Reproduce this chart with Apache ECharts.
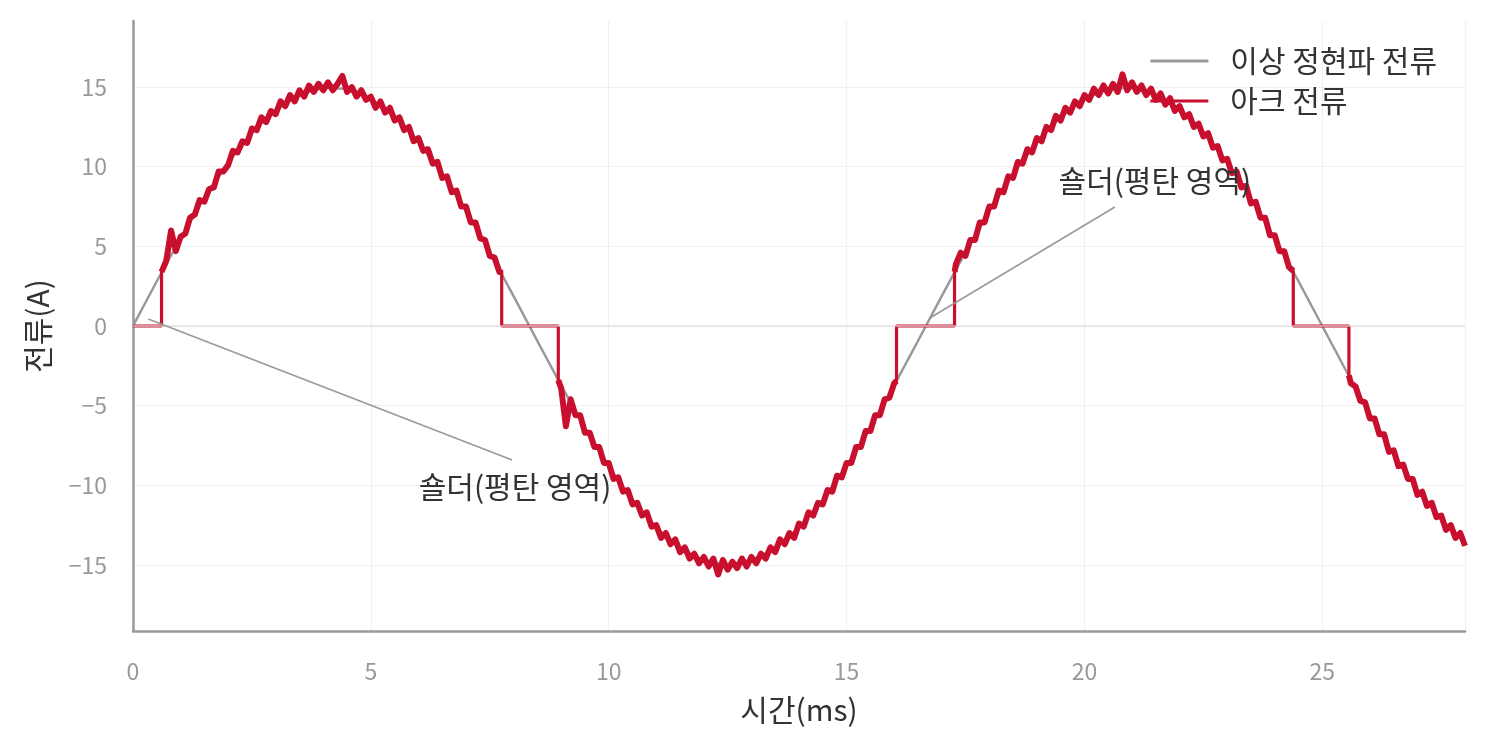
<!DOCTYPE html>
<html>
<head>
<meta charset="utf-8">
<script src="https://cdn.jsdelivr.net/npm/echarts@6.0.0/dist/echarts.min.js"></script>
<style>
    body { margin: 0; background: #fff; }
    #main { width: 1486px; height: 752px; }
</style>
</head>
<body>
<div id="main"></div>
<script>
//데이터
const xTicks = [0, 5, 10, 15, 20, 25];
const yTicks = [-15, -10, -5, 0, 5, 10, 15];

//이상 정현파 (0.5ms 간격)
const idealTime = [0, 0.5, 1, 1.5, 2, 2.5, 3, 3.5, 4, 4.5, 5, 5.5, 6, 6.5, 7, 7.5, 8, 8.5, 9, 9.5,
    10, 10.5, 11, 11.5, 12, 12.5, 13, 13.5, 14, 14.5, 15, 15.5, 16, 16.5, 17, 17.5, 18, 18.5, 19, 19.5,
    20, 20.5, 21, 21.5, 22, 22.5, 23, 23.5, 24, 24.5, 25, 25.5, 26, 26.5, 27, 27.5, 28];
const idealCurrent = [0, 2.81, 5.52, 8.04, 10.27, 12.14, 13.57, 14.53, 14.97, 14.88, 14.26, 13.14, 11.56, 9.56, 7.23, 4.64, 1.88, -0.94, -3.73, -6.39,
    -8.82, -10.93, -12.66, -13.95, -14.73, -15.0, -14.73, -13.95, -12.66, -10.93, -8.82, -6.39, -3.73, -0.94, 1.88, 4.64, 7.23, 9.56, 11.56, 13.14,
    14.26, 14.88, 14.97, 14.53, 13.57, 12.14, 10.27, 8.04, 5.52, 2.81, 0, -2.81, -5.52, -8.04, -10.27, -12.14, -13.57];

//아크 전류 [시간(ms), 전류(A)]
const arcCurrent = [
    [0, 0], [0.6, 0], [0.6, 3.4], [0.7, 4.1], [0.8, 6.0], [0.9, 4.7], [1.0, 5.6], [1.1, 5.8], [1.2, 6.8], [1.3, 7.0], [1.4, 7.9], [1.5, 7.8],
    [1.6, 8.6], [1.7, 8.7], [1.8, 9.7], [1.9, 9.7], [2.0, 10.1], [2.1, 11.0], [2.2, 10.9], [2.3, 11.6], [2.4, 11.5], [2.5, 12.4], [2.6, 12.3],
    [2.7, 13.1], [2.8, 12.8], [2.9, 13.5], [3.0, 13.3], [3.1, 14.1], [3.2, 13.8], [3.3, 14.5], [3.4, 14.1], [3.5, 14.8], [3.6, 14.4], [3.7, 15.1],
    [3.8, 14.7], [3.9, 15.2], [4.0, 14.8], [4.1, 15.3], [4.2, 14.8], [4.3, 15.2], [4.4, 15.7], [4.5, 14.7], [4.6, 15.0], [4.7, 14.4], [4.8, 14.8],
    [4.9, 14.2], [5.0, 14.4], [5.1, 13.7], [5.2, 14.1], [5.3, 13.4], [5.4, 13.7], [5.5, 12.9], [5.6, 13.1], [5.7, 12.3], [5.8, 12.5], [5.9, 11.6],
    [6.0, 11.8], [6.1, 11.0], [6.2, 11.1], [6.3, 10.2], [6.4, 10.3], [6.5, 9.3], [6.6, 9.4], [6.7, 8.4], [6.8, 8.5], [6.9, 7.5], [7.0, 7.5],
    [7.1, 6.5], [7.2, 6.5], [7.3, 5.5], [7.4, 5.4], [7.5, 4.4], [7.6, 4.3], [7.7, 3.4], [7.75, 3.5], [7.75, 0], [8.94, 0], [8.94, -3.4],
    [9.0, -3.9], [9.1, -6.3], [9.2, -4.6], [9.3, -5.6], [9.4, -5.6], [9.5, -6.7], [9.6, -6.7], [9.7, -7.6], [9.8, -7.6], [9.9, -8.6], [10.0, -8.6],
    [10.1, -9.6], [10.2, -9.5], [10.3, -10.4], [10.4, -10.3], [10.5, -11.2], [10.6, -11.1], [10.7, -11.9], [10.8, -11.7], [10.9, -12.6], [11.0, -12.5],
    [11.1, -13.3], [11.2, -13.0], [11.3, -13.7], [11.4, -13.4], [11.5, -14.2], [11.6, -13.9], [11.7, -14.6], [11.8, -14.3], [11.9, -14.9], [12.0, -14.5],
    [12.1, -15.1], [12.2, -14.6], [12.3, -15.6], [12.4, -14.7], [12.5, -15.3], [12.6, -14.8], [12.7, -15.2], [12.8, -14.6], [12.9, -15.1], [13.0, -14.5],
    [13.1, -14.9], [13.2, -14.3], [13.3, -14.6], [13.4, -13.9], [13.5, -14.2], [13.6, -13.4], [13.7, -13.7], [13.8, -13.0], [13.9, -13.3], [14.0, -12.4],
    [14.1, -12.6], [14.2, -11.7], [14.3, -11.9], [14.4, -11.1], [14.5, -11.2], [14.6, -10.3], [14.7, -10.4], [14.8, -9.4], [14.9, -9.5], [15.0, -8.6],
    [15.1, -8.6], [15.2, -7.6], [15.3, -7.6], [15.4, -6.6], [15.5, -6.6], [15.6, -5.6], [15.7, -5.6], [15.8, -4.6], [15.9, -4.5], [16.0, -3.6],
    [16.05, -3.45], [16.05, 0], [17.27, 0], [17.27, 3.4],
    [17.3, 3.9], [17.4, 4.6], [17.5, 4.4], [17.6, 5.4], [17.7, 5.4], [17.8, 6.5], [17.9, 6.5], [18.0, 7.5], [18.1, 7.5], [18.2, 8.5], [18.3, 8.4],
    [18.4, 9.4], [18.5, 9.3], [18.6, 10.3], [18.7, 10.2], [18.8, 11.1], [18.9, 10.9], [19.0, 11.8], [19.1, 11.6], [19.2, 12.5], [19.3, 12.3],
    [19.4, 13.2], [19.5, 12.9], [19.6, 13.7], [19.7, 13.4], [19.8, 14.1], [19.9, 13.8], [20.0, 14.5], [20.1, 14.2], [20.2, 14.9], [20.3, 14.5],
    [20.4, 15.1], [20.5, 14.6], [20.6, 15.2], [20.7, 14.7], [20.8, 15.8], [20.9, 14.8], [21.0, 15.3], [21.1, 14.7], [21.2, 15.1], [21.3, 14.5],
    [21.4, 14.9], [21.5, 14.2], [21.6, 14.6], [21.7, 13.9], [21.8, 14.3], [21.9, 13.5], [22.0, 13.8], [22.1, 13.1], [22.2, 13.3], [22.3, 12.5],
    [22.4, 12.7], [22.5, 11.9], [22.6, 12.1], [22.7, 11.2], [22.8, 11.3], [22.9, 10.4], [23.0, 10.5], [23.1, 9.6], [23.2, 9.7], [23.3, 8.7],
    [23.4, 8.8], [23.5, 7.7], [23.6, 7.8], [23.7, 6.8], [23.8, 6.8], [23.9, 5.7], [24.0, 5.7], [24.1, 4.7], [24.2, 4.7], [24.3, 3.7],
    [24.39, 3.45], [24.39, 0], [25.56, 0], [25.56, -3.1],
    [25.6, -3.6], [25.7, -3.8], [25.8, -4.7], [25.9, -4.8], [26.0, -5.8], [26.1, -5.8], [26.2, -6.8], [26.3, -6.8], [26.4, -7.9], [26.5, -7.8],
    [26.6, -8.8], [26.7, -8.7], [26.8, -9.6], [26.9, -9.6], [27.0, -10.6], [27.1, -10.4], [27.2, -11.3], [27.3, -11.1], [27.4, -12.0], [27.5, -11.9],
    [27.6, -12.8], [27.7, -12.5], [27.8, -13.3], [27.9, -13.0], [28.0, -13.8]
];

//주석 (숄더)
const annotText = '숄더(평탄 영역)';
const arrowFrom = [[0.32, 0.44], [16.75, 0.5]];
const arrowTo = [[7.97, -8.41], [20.64, 7.47]];
const labelPos = [[8.03, -10.1], [21.48, 9.1]];

const FONT = '"Noto Sans CJK KR", "Noto Sans", sans-serif';
const RED = '#C8102E';

//눈금 라벨 (유니코드 마이너스)
function tickLabel(v) {
    return v < 0 ? '\u2212' + Math.abs(v) : String(v);
}

//차트 생성
function createChart() {
    let chart = echarts.init(document.getElementById('main'));

    let idealData = idealTime.map((t, i) => [t, idealCurrent[i]]);
    //노이즈 구간만 (평탄 구간은 끊음)
    let arcNoisy = arcCurrent.map((p) => (p[1] === 0 ? [p[0], null] : p));
    let arrowLines = arrowFrom.map((p, i) => [
        { coord: p, lineStyle: { color: '#999', width: 1.6, type: 'solid' } },
        { coord: arrowTo[i] }
    ]);
    let labels = labelPos.map((p) => ({
        coord: p,
        symbol: 'circle',
        symbolSize: 0,
        label: { show: true, formatter: annotText, color: '#333', fontSize: 30, fontFamily: FONT, position: 'inside' }
    }));

    let option = {
        animation: false,
        backgroundColor: '#fff',
        textStyle: { fontFamily: FONT },
        grid: { left: 133, right: 21, top: 21, bottom: 121, containLabel: false, outerBoundsMode: 'none' },
        legend: {
            orient: 'vertical',
            right: 44,
            top: 41,
            icon: 'rect',
            itemWidth: 58,
            itemHeight: 3,
            itemGap: 10,
            textStyle: { color: '#333', fontSize: 30, fontFamily: FONT, padding: [0, 0, 0, 17] },
            data: ['이상 정현파 전류', '아크 전류']
        },
        xAxis: {
            type: 'value',
            min: 0,
            max: 28,
            interval: 5,
            name: '시간(ms)',
            nameLocation: 'middle',
            nameGap: 64,
            nameTextStyle: { color: '#333', fontSize: 30, fontFamily: FONT },
            axisLine: { show: true, onZero: false, lineStyle: { color: '#999', width: 2.5 } },
            axisTick: { show: false },
            axisLabel: { color: '#999', fontSize: 23, margin: 29, showMaxLabel: false, fontFamily: FONT, formatter: tickLabel },
            splitLine: { show: true, lineStyle: { color: '#f0f0f0', width: 1 } }
        },
        yAxis: {
            type: 'value',
            min: -19.15,
            max: 19.15,
            splitNumber: 8,
            name: '전류(A)',
            nameLocation: 'middle',
            nameGap: 80,
            nameTextStyle: { color: '#333', fontSize: 30, fontFamily: FONT },
            axisLine: { show: true, onZero: false, lineStyle: { color: '#999', width: 2.5 } },
            axisTick: { show: false, customValues: yTicks },
            axisLabel: { color: '#999', fontSize: 23, margin: 26, customValues: yTicks, fontFamily: FONT, formatter: tickLabel },
            splitLine: { show: true, lineStyle: { color: '#f0f0f0', width: 1 } }
        },
        series: [
            {
                name: '이상 정현파 전류',
                type: 'line',
                data: idealData,
                showSymbol: false,
                color: '#999',
                lineStyle: { color: '#999', width: 2.5 },
                z: 2
            },
            {
                name: '아크 전류',
                type: 'line',
                data: arcCurrent,
                showSymbol: false,
                color: RED,
                lineStyle: { color: RED, width: 3.2 },
                z: 3
            },
            {
                name: '아크 전류',
                type: 'line',
                data: arcNoisy,
                showSymbol: false,
                connectNulls: false,
                color: RED,
                lineStyle: { color: RED, width: 6, join: 'round' },
                z: 3
            },
            {
                //기준선과 주석
                type: 'line',
                data: [],
                z: 4,
                markLine: {
                    silent: true,
                    symbol: ['none', 'none'],
                    label: { show: false },
                    data: [
                        { yAxis: 0, lineStyle: { color: 'rgba(222,222,222,0.85)', width: 1.6, type: 'solid' } }
                    ].concat(arrowLines)
                },
                markPoint: {
                    silent: true,
                    data: labels
                }
            }
        ]
    };
    chart.setOption(option);
}
createChart();
</script>
</body>
</html>
